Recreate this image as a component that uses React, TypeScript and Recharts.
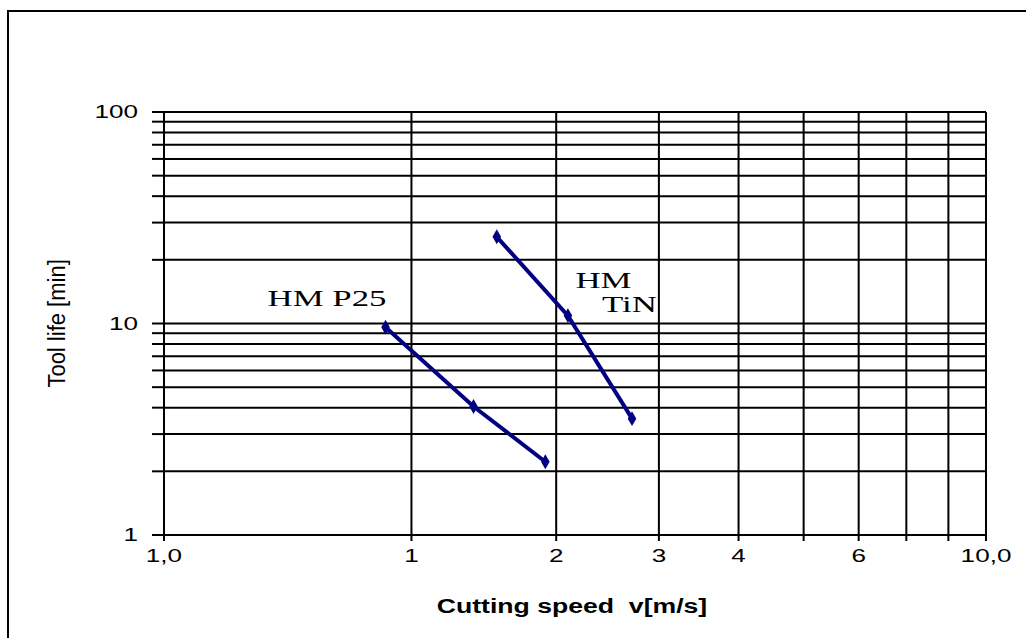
import { ScatterChart, Scatter, XAxis, YAxis, ZAxis, CartesianGrid } from 'recharts'

// cutting speed axis: gridlines at 1..10, printed labels as in the source figure
const speedTicks = [1, 2, 3, 4, 5, 6, 7, 8, 9, 10]
const speedTickLabels: Record<number, string> = { 1: '1,0', 2: '1', 3: '2', 4: '3', 5: '4', 7: '6', 10: '10,0' }

const lifeTicks = [1, 2, 3, 4, 5, 6, 7, 8, 9, 10, 20, 30, 40, 50, 60, 70, 80, 90, 100]
const lifeTickLabels: Record<number, string> = { 1: '1', 10: '10', 100: '100' }

const p25Speed = [1.86, 2.38, 2.91]
const p25Life = [9.6, 4.05, 2.22]

const tinSpeed = [2.54, 3.1, 3.71]
const tinLife = [25.7, 10.9, 3.55]

const p25 = p25Speed.map((v, i) => ({ v, t: p25Life[i] }))
const tin = tinSpeed.map((v, i) => ({ v, t: tinLife[i] }))

const NAVY = '#000080'
const SANS = 'Arial, "Liberation Sans", sans-serif'
const SERIF = '"Times New Roman", "Liberation Serif", serif'
const SX = 1.45 // the source image is stretched sideways

const XTick = (p: any) => {
  const label = speedTickLabels[p.payload.value]
  if (!label) return null
  return (
    <text transform={`translate(${p.x} ${p.y + 19}) scale(${SX} 1)`} textAnchor="middle"
      fontFamily={SANS} fontSize={18} fill="#000">{label}</text>
  )
}

const YTick = (p: any) => {
  const label = lifeTickLabels[p.payload.value]
  if (!label) return null
  return (
    <text transform={`translate(${p.x - 12} ${p.y + 6}) scale(${SX} 1)`} textAnchor="end"
      fontFamily={SANS} fontSize={18} fill="#000">{label}</text>
  )
}

function Note({ text, cx, cy, w, font, size, sx = SX, bold, rotate }: any) {
  const h = size * 1.4
  return (
    <div style={{
      position: 'absolute', left: cx - w / 2, top: cy - h / 2, width: w, height: h,
      lineHeight: `${h}px`, textAlign: 'center', whiteSpace: 'pre',
      fontFamily: font, fontSize: size, fontWeight: bold ? 'bold' : 'normal', color: '#000',
      transform: `scaleX(${sx})${rotate ? ' rotate(-90deg)' : ''}`, transformOrigin: 'center',
    }}>{text}</div>
  )
}

export default function App() {
  return (
    <div style={{ position: 'absolute', left: 0, top: 0, width: 1026, height: 638, background: '#fff', overflow: 'hidden' }}>
      <div style={{ position: 'absolute', left: 7, top: 10, width: 1100, height: 700, borderLeft: '2px solid #000', borderTop: '2px solid #000' }} />
      <ScatterChart width={1026} height={638} margin={{ top: 112, right: 40, bottom: 43, left: 0 }} style={{ position: 'absolute', left: 0, top: 0 }}>
        <CartesianGrid stroke="#000" strokeWidth={2} />
        <XAxis type="number" dataKey="v" scale="log" domain={[1, 10]} ticks={speedTicks} interval={0}
          allowDataOverflow height={60} tickSize={6} tickMargin={2}
          axisLine={{ stroke: '#000', strokeWidth: 2 }} tickLine={{ stroke: '#000', strokeWidth: 2 }} tick={XTick} />
        <YAxis type="number" dataKey="t" scale="log" domain={[1, 100]} ticks={lifeTicks} interval={0}
          allowDataOverflow width={164} tickSize={12} tickMargin={2}
          axisLine={{ stroke: '#000', strokeWidth: 2 }} tickLine={{ stroke: '#000', strokeWidth: 2 }} tick={YTick} />
        <ZAxis range={[85, 85]} />
        <Scatter name="HM P25" data={p25} fill={NAVY} shape="diamond" line={{ stroke: NAVY, strokeWidth: 4 }} isAnimationActive={false} />
        <Scatter name="HM TiN" data={tin} fill={NAVY} shape="diamond" line={{ stroke: NAVY, strokeWidth: 4 }} isAnimationActive={false} />
      </ScatterChart>
      <Note text="HM P25" cx={327} cy={299} w={90} font={SERIF} size={24} />
      <Note text="HM" cx={603} cy={281} w={45} font={SERIF} size={24} />
      <Note text="TiN" cx={629} cy={305} w={45} font={SERIF} size={24} />
      <Note text="Cutting speed  v[m/s]" cx={572} cy={606} w={230} font={SANS} size={20} sx={1.33} bold />
      <Note text="Tool life [min]" cx={58} cy={323} w={150} font={SANS} size={22} sx={1.1} rotate />
    </div>
  )
}
